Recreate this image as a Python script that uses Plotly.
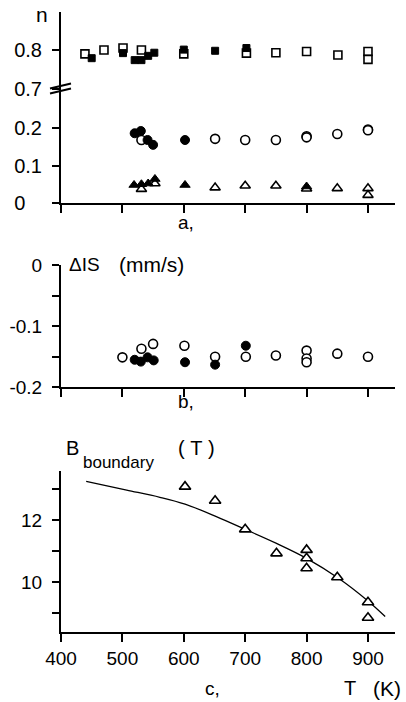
import plotly.graph_objects as go

W, H = 406, 702

# ---------------- data ----------------
# panel a: n vs T
sq_open_T = [439, 470, 501, 531, 600, 702, 750, 800, 851, 900, 900]
sq_open_n = [0.790, 0.800, 0.805, 0.800, 0.790, 0.792, 0.793, 0.796, 0.787, 0.796, 0.776]
sq_fill_T = [450, 501, 520, 531, 542, 552, 600, 651, 702]
sq_fill_n = [0.779, 0.792, 0.774, 0.774, 0.785, 0.793, 0.801, 0.798, 0.805]

ci_open_T = [531, 651, 700, 750, 800, 800, 850, 900, 900]
ci_open_n = [0.168, 0.171, 0.168, 0.168, 0.178, 0.175, 0.184, 0.196, 0.194]
ci_fill_T = [520, 530, 541, 550, 602]
ci_fill_n = [0.186, 0.192, 0.168, 0.155, 0.168]

tr_open_T = [531, 553, 651, 700, 750, 800, 850, 900, 900]
tr_open_n = [0.037, 0.052, 0.041, 0.046, 0.046, 0.038, 0.039, 0.039, 0.021]
tr_fill_T = [519, 531, 542, 553, 602, 800]
tr_fill_n = [0.048, 0.050, 0.052, 0.064, 0.048, 0.044]

# panel b: delta IS vs T
is_open_T = [500, 531, 550, 601, 651, 701, 750, 800, 800, 800, 850, 900]
is_open_v = [-0.151, -0.137, -0.129, -0.132, -0.150, -0.150, -0.148, -0.140, -0.153, -0.159, -0.145, -0.150]
is_fill_T = [520, 530, 541, 551, 602, 651, 701]
is_fill_v = [-0.155, -0.158, -0.151, -0.156, -0.159, -0.163, -0.132]

# panel c: B boundary vs T
b_pts_T = [602, 651, 700, 751, 800, 800, 800, 850, 900, 900]
b_pts_v = [13.07, 12.62, 11.70, 10.93, 11.04, 10.77, 10.45, 10.16, 9.36, 8.86]
b_fit_T = [441, 507, 561, 602, 653, 700, 751, 800, 852, 900, 928]
b_fit_v = [13.24, 12.96, 12.73, 12.51, 12.11, 11.70, 11.25, 10.77, 10.13, 9.40, 8.90]

x_ticks = [400, 500, 600, 700, 800, 900]
x_tick_labels = ["400", "500", "600", "700", "800", "900"]

# ---------------- helpers ----------------
def px(x):
    return x / W

def py(y):
    return 1 - y / H

FONT = "Liberation Sans, Arial, sans-serif"
LW = 1.6

def open_m(sym, size):
    return dict(symbol=sym, size=size, color="white", line=dict(color="black", width=LW))

def fill_m(sym, size):
    return dict(symbol=sym, size=size, color="black", line=dict(color="black", width=1))

fig = go.Figure()

# panel a (upper part: squares)
fig.add_trace(go.Scatter(x=sq_open_T, y=sq_open_n, mode="markers", marker=open_m("square", 8), xaxis="x", yaxis="y2"))
fig.add_trace(go.Scatter(x=sq_fill_T, y=sq_fill_n, mode="markers", marker=fill_m("square", 7), xaxis="x", yaxis="y2"))
# panel a (lower part)
fig.add_trace(go.Scatter(x=ci_open_T, y=ci_open_n, mode="markers", marker=open_m("circle", 9), xaxis="x", yaxis="y"))
fig.add_trace(go.Scatter(x=ci_fill_T, y=ci_fill_n, mode="markers", marker=fill_m("circle", 9), xaxis="x", yaxis="y"))
fig.add_trace(go.Scatter(x=tr_open_T, y=tr_open_n, mode="markers", marker=open_m("triangle-up", 9), xaxis="x", yaxis="y"))
fig.add_trace(go.Scatter(x=tr_fill_T, y=tr_fill_n, mode="markers", marker=fill_m("triangle-up", 9), xaxis="x", yaxis="y"))
# panel b
fig.add_trace(go.Scatter(x=is_open_T, y=is_open_v, mode="markers", marker=open_m("circle", 9), xaxis="x2", yaxis="y3"))
fig.add_trace(go.Scatter(x=is_fill_T, y=is_fill_v, mode="markers", marker=fill_m("circle", 9), xaxis="x2", yaxis="y3"))
# panel c
fig.add_trace(go.Scatter(x=b_fit_T, y=b_fit_v, mode="lines", line=dict(color="black", width=1.3, shape="spline"), xaxis="x3", yaxis="y4"))
fig.add_trace(go.Scatter(x=b_pts_T, y=b_pts_v, mode="markers", marker=open_m("triangle-up", 10), xaxis="x3", yaxis="y4"))

xdom = [px(61), px(395)]
xrange = [400, 944]

def xax(anchor, labels):
    return dict(domain=xdom, range=xrange, anchor=anchor, showline=True, linecolor="black", linewidth=2,
                ticks="outside", ticklen=8, tickwidth=1.5, tickcolor="black",
                tickvals=x_ticks, ticktext=x_tick_labels, showticklabels=labels,
                showgrid=False, zeroline=False, fixedrange=True, automargin=False,
                tickfont=dict(family=FONT, size=19, color="black"))

def yax(anchor, dom, rng, tv, tt, fs):
    return dict(domain=dom, range=rng, anchor=anchor, showline=True, linecolor="black", linewidth=2,
                ticks="outside", ticklen=7, tickwidth=1.5, tickcolor="black",
                tickvals=tv, ticktext=tt, showgrid=False, zeroline=False, fixedrange=True,
                automargin=False, ticklabelstandoff=6,
                tickfont=dict(family=FONT, size=fs, color="black"))

NB = "\u00a0"
fig.update_layout(
    width=W, height=H,
    margin=dict(l=0, r=0, t=0, b=0, pad=0),
    autosize=False,
    paper_bgcolor="white", plot_bgcolor="white",
    showlegend=False,
    xaxis=xax("y", False),
    yaxis=yax("x", [py(203), py(89)], [0, 0.304], [0, 0.1, 0.2], ["0" + NB * 3, "0.1", "0.2"], 20),
    yaxis2=yax("x", [py(89), py(12)], [0.7, 0.8974], [0.7, 0.8], ["0.7", "0.8"], 20),
    xaxis2=xax("y3", False),
    yaxis3=yax("x2", [py(387.3), py(265)], [-0.2, 0], [-0.2, -0.15, -0.1, -0.05, 0], ["-0.2", "", "-0.1", "", "0"], 19),
    xaxis3=xax("y4", True),
    yaxis4=yax("x3", [py(631.7), py(471)], [8.414, 13.573], [9, 10, 11, 12, 13], ["", "10", "", "12", ""], 19),
)

def ann(text, x, y, size=19, xanchor="center"):
    fig.add_annotation(text=text, x=px(x), y=py(y), xref="paper", yref="paper", showarrow=False,
                       xanchor=xanchor, yanchor="middle", font=dict(family=FONT, size=size, color="black"))

ann("n", 42, 14, 21)
ann("a,", 186, 222, 19)
ann("\u0394IS", 67, 264, 19, "left")
ann("(mm/s)", 117, 264, 21, "left")
ann("b,", 186, 401, 19)
ann("B", 64, 448, 20, "left")
ann("boundary", 81, 462, 17, "left")
ann("(" + NB + "T" + NB + ")", 196, 448, 20)
ann("c,", 212, 688, 19)
ann("T", 342, 688, 20, "left")
ann("(K)", 371, 688, 21, "left")

# axis break mark on panel a
for dy in (-2.5, 2.5):
    fig.add_shape(type="line", xref="paper", yref="paper",
                  x0=px(50), y0=py(91 + dy), x1=px(71), y1=py(86 + dy),
                  line=dict(color="black", width=1.8))

fig.write_html("out.html", config={"displayModeBar": False},
               post_script="document.body.style.margin='0px';document.body.style.padding='0px';")
